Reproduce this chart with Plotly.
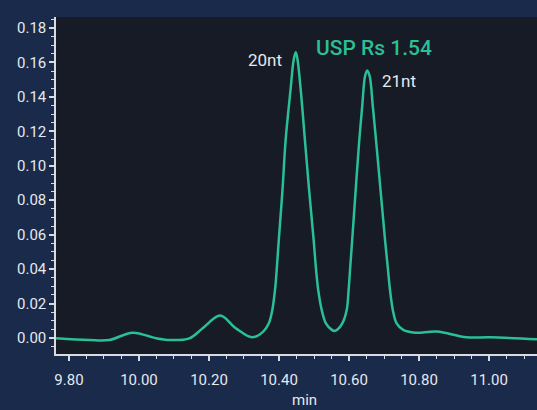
import plotly.graph_objects as go

# Chromatogram trace (retention time in min, absorbance)
time_min = [9.763, 9.858, 9.915, 9.982, 10.049, 10.087, 10.144, 10.182, 10.232, 10.277,
            10.323, 10.355, 10.371, 10.3809, 10.3886, 10.3934, 10.3994, 10.410, 10.419, 10.433,
            10.442, 10.448, 10.453, 10.462, 10.474, 10.486, 10.499, 10.506, 10.512, 10.522,
            10.534, 10.551, 10.558, 10.567, 10.5809, 10.5934, 10.5989, 10.6029, 10.6091, 10.6191,
            10.6294, 10.6377, 10.6457, 10.652, 10.6591, 10.668, 10.6771, 10.690, 10.7029, 10.7114,
            10.7171, 10.7251, 10.736, 10.755, 10.789, 10.851, 10.936, 11.003, 11.137]
signal = [-0.0002, -0.0012, -0.0012, 0.0031, -0.0002, -0.0012, -0.0002, 0.0056, 0.0130, 0.0056,
          0.0004, 0.0037, 0.0085, 0.0163, 0.0279, 0.0395, 0.0570, 0.0860, 0.1151, 0.1442,
          0.1616, 0.1659, 0.1616, 0.1442, 0.1151, 0.0860, 0.0570, 0.0395, 0.0279, 0.0163,
          0.0085, 0.0047, 0.0041, 0.0049, 0.0085, 0.0163, 0.0279, 0.0395, 0.0570, 0.0860,
          0.1151, 0.1345, 0.1520, 0.1554, 0.1520, 0.1345, 0.1151, 0.0860, 0.0570, 0.0395,
          0.0279, 0.0163, 0.0085, 0.0047, 0.0031, 0.0037, 0.0004, 0.0004, -0.0008]

x_ticks = [9.80, 10.00, 10.20, 10.40, 10.60, 10.80, 11.00]
y_ticks = [0.00, 0.02, 0.04, 0.06, 0.08, 0.10, 0.12, 0.14, 0.16, 0.18]

peak_labels = ["20nt", "21nt"]
peak_times = [10.448, 10.652]
peak_heights = [0.1659, 0.1554]
resolution_text = "USP Rs 1.54"

GREEN = "#2bbf96"
TXT = "#e6e8ec"
AX = "#d8dce2"

fig = go.Figure()
fig.add_trace(go.Scatter(
    x=time_min, y=signal, mode="lines",
    line=dict(color=GREEN, width=2.5, shape="spline", smoothing=1.0),
    hoverinfo="skip", showlegend=False,
))

axis_font = dict(family="Roboto, DejaVu Sans, sans-serif", size=15, color=TXT)

fig.update_layout(
    width=537, height=410,
    margin=dict(l=56, r=0, t=17, b=56),
    paper_bgcolor="#1a2a4b",
    plot_bgcolor="#171b25",
    font=axis_font,
    xaxis=dict(
        range=[9.763, 11.137], tickvals=x_ticks, tickformat=".2f", automargin=False,
        showgrid=False, zeroline=False, showline=True, linecolor=AX, linewidth=1.5,
        ticks="outside", ticklen=5, tickwidth=1.5, tickcolor=AX,
        minor=dict(dtick=0.05, ticks="outside", ticklen=3, tickcolor=AX, tickwidth=1.2, showgrid=False),
        tickfont=axis_font, ticklabelstandoff=6,
    ),
    yaxis=dict(
        range=[-0.0093, 0.1864], tickvals=y_ticks, tickformat=".2f", automargin=False,
        showgrid=False, zeroline=False, showline=True, linecolor=AX, linewidth=1.5,
        ticks="outside", ticklen=5, tickwidth=1.5, tickcolor=AX,
        minor=dict(dtick=0.005, ticks="outside", ticklen=3, tickcolor=AX, tickwidth=1.2, showgrid=False),
        tickfont=axis_font,
    ),
)

# peak labels
fig.add_annotation(x=peak_times[0], y=peak_heights[0], text=peak_labels[0], showarrow=False,
                   xanchor="right", yanchor="middle", xshift=-12, yshift=-8,
                   font=dict(family="Roboto, sans-serif", size=17, color=TXT))
fig.add_annotation(x=peak_times[1], y=peak_heights[1], text=peak_labels[1], showarrow=False,
                   xanchor="left", yanchor="middle", xshift=13, yshift=-11,
                   font=dict(family="Roboto, sans-serif", size=17, color=TXT))
fig.add_annotation(x=10.501, y=0.1685, text=resolution_text, showarrow=False,
                   xanchor="left", yanchor="middle",
                   font=dict(family="Roboto, sans-serif", size=21, color=GREEN, weight=500))

# x-axis title
fig.add_annotation(xref="paper", yref="paper", x=0.516, y=0, yshift=-46, text="min",
                   showarrow=False, xanchor="center", yanchor="middle",
                   font=dict(family="Roboto, sans-serif", size=15, color=TXT))

fig.write_html("out.html", config={"displayModeBar": False},
               post_script="document.body.style.margin='0';document.body.style.overflow='hidden';")
